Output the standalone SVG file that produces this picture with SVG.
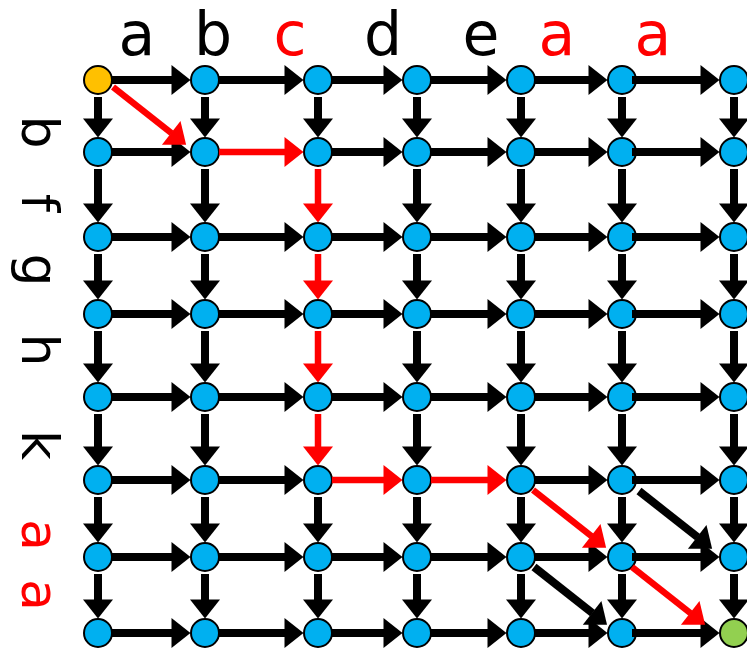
<svg xmlns="http://www.w3.org/2000/svg" width="747" height="652" viewBox="0 0 747 652">
  <style>
    .lbl { font-family: "DejaVu Sans", Verdana, sans-serif; fill: #000; }
    .top { font-size: 60px; text-anchor: middle; }
    .side { font-size: 52px; text-anchor: middle; }
    .hot { fill: #FF0000; }
    .n { fill: #00B0F0; stroke: #000; stroke-width: 2; }
    .n.start { fill: #FFC000; }
    .n.end { fill: #92D050; }
    .k { stroke: #000; stroke-width: 8; fill: none; marker-end: url(#headK); }
    .r { stroke: #FF0000; stroke-width: 6.5; fill: none; marker-end: url(#headR); }
  </style>
  <defs>
    <marker id="headK" markerUnits="userSpaceOnUse" markerWidth="22" markerHeight="32" viewBox="0 -16 20 32" refX="0.5" refY="0" orient="auto">
      <path d="M0,-15 L19,0 L0,15 Z" fill="#000"/>
    </marker>
    <marker id="headR" markerUnits="userSpaceOnUse" markerWidth="22" markerHeight="32" viewBox="0 -16 20 32" refX="0.5" refY="0" orient="auto">
      <path d="M0,-15 L19,0 L0,15 Z" fill="#FF0000"/>
    </marker>
  </defs>

  <!-- column labels -->
  <g id="col-labels" class="lbl top">
    <text x="137" y="55">a</text>
    <text x="213" y="55">b</text>
    <text x="290" y="55" class="hot">c</text>
    <text x="383" y="55">d</text>
    <text x="481" y="55">e</text>
    <text x="557" y="55" class="hot">a</text>
    <text x="653" y="55" class="hot">a</text>
  </g>

  <!-- row labels, rotated -->
  <g id="row-labels" class="lbl side">
    <text transform="translate(22,132) rotate(90)">b</text>
    <text transform="translate(22,203) rotate(90)">f</text>
    <text transform="translate(22,270) rotate(90)">g</text>
    <text transform="translate(22,350) rotate(90)">h</text>
    <text transform="translate(22,445) rotate(90)">k</text>
    <text transform="translate(22,535) rotate(90)" class="hot">a</text>
    <text transform="translate(22,595) rotate(90)" class="hot">a</text>
  </g>

  <!-- grid nodes -->
  <g id="nodes">
    <g id="n0-0"><circle class="n start" cx="98" cy="80" r="14"/></g>
    <g id="n0-1"><circle class="n" cx="205" cy="80" r="14"/></g>
    <g id="n0-2"><circle class="n" cx="318" cy="80" r="14"/></g>
    <g id="n0-3"><circle class="n" cx="417" cy="80" r="14"/></g>
    <g id="n0-4"><circle class="n" cx="521" cy="80" r="14"/></g>
    <g id="n0-5"><circle class="n" cx="622" cy="80" r="14"/></g>
    <g id="n0-6"><circle class="n" cx="734" cy="80" r="14"/></g>

    <g id="n1-0"><circle class="n" cx="98" cy="152" r="14"/></g>
    <g id="n1-1"><circle class="n" cx="205" cy="152" r="14"/></g>
    <g id="n1-2"><circle class="n" cx="318" cy="152" r="14"/></g>
    <g id="n1-3"><circle class="n" cx="417" cy="152" r="14"/></g>
    <g id="n1-4"><circle class="n" cx="521" cy="152" r="14"/></g>
    <g id="n1-5"><circle class="n" cx="622" cy="152" r="14"/></g>
    <g id="n1-6"><circle class="n" cx="734" cy="152" r="14"/></g>

    <g id="n2-0"><circle class="n" cx="98" cy="237" r="14"/></g>
    <g id="n2-1"><circle class="n" cx="205" cy="237" r="14"/></g>
    <g id="n2-2"><circle class="n" cx="318" cy="237" r="14"/></g>
    <g id="n2-3"><circle class="n" cx="417" cy="237" r="14"/></g>
    <g id="n2-4"><circle class="n" cx="521" cy="237" r="14"/></g>
    <g id="n2-5"><circle class="n" cx="622" cy="237" r="14"/></g>
    <g id="n2-6"><circle class="n" cx="734" cy="237" r="14"/></g>

    <g id="n3-0"><circle class="n" cx="98" cy="314" r="14"/></g>
    <g id="n3-1"><circle class="n" cx="205" cy="314" r="14"/></g>
    <g id="n3-2"><circle class="n" cx="318" cy="314" r="14"/></g>
    <g id="n3-3"><circle class="n" cx="417" cy="314" r="14"/></g>
    <g id="n3-4"><circle class="n" cx="521" cy="314" r="14"/></g>
    <g id="n3-5"><circle class="n" cx="622" cy="314" r="14"/></g>
    <g id="n3-6"><circle class="n" cx="734" cy="314" r="14"/></g>

    <g id="n4-0"><circle class="n" cx="98" cy="397" r="14"/></g>
    <g id="n4-1"><circle class="n" cx="205" cy="397" r="14"/></g>
    <g id="n4-2"><circle class="n" cx="318" cy="397" r="14"/></g>
    <g id="n4-3"><circle class="n" cx="417" cy="397" r="14"/></g>
    <g id="n4-4"><circle class="n" cx="521" cy="397" r="14"/></g>
    <g id="n4-5"><circle class="n" cx="622" cy="397" r="14"/></g>
    <g id="n4-6"><circle class="n" cx="734" cy="397" r="14"/></g>

    <g id="n5-0"><circle class="n" cx="98" cy="480" r="14"/></g>
    <g id="n5-1"><circle class="n" cx="205" cy="480" r="14"/></g>
    <g id="n5-2"><circle class="n" cx="318" cy="480" r="14"/></g>
    <g id="n5-3"><circle class="n" cx="417" cy="480" r="14"/></g>
    <g id="n5-4"><circle class="n" cx="521" cy="480" r="14"/></g>
    <g id="n5-5"><circle class="n" cx="622" cy="480" r="14"/></g>
    <g id="n5-6"><circle class="n" cx="734" cy="480" r="14"/></g>

    <g id="n6-0"><circle class="n" cx="98" cy="557" r="14"/></g>
    <g id="n6-1"><circle class="n" cx="205" cy="557" r="14"/></g>
    <g id="n6-2"><circle class="n" cx="318" cy="557" r="14"/></g>
    <g id="n6-3"><circle class="n" cx="417" cy="557" r="14"/></g>
    <g id="n6-4"><circle class="n" cx="521" cy="557" r="14"/></g>
    <g id="n6-5"><circle class="n" cx="622" cy="557" r="14"/></g>
    <g id="n6-6"><circle class="n" cx="734" cy="557" r="14"/></g>

    <g id="n7-0"><circle class="n" cx="98" cy="633" r="14"/></g>
    <g id="n7-1"><circle class="n" cx="205" cy="633" r="14"/></g>
    <g id="n7-2"><circle class="n" cx="318" cy="633" r="14"/></g>
    <g id="n7-3"><circle class="n" cx="417" cy="633" r="14"/></g>
    <g id="n7-4"><circle class="n" cx="521" cy="633" r="14"/></g>
    <g id="n7-5"><circle class="n" cx="622" cy="633" r="14"/></g>
    <g id="n7-6"><circle class="n end" cx="734" cy="633" r="14"/></g>
  </g>

  <!-- connectors: horizontal, vertical and diagonal moves -->
  <g id="connectors">
    <!-- row 0 -->
    <line class="k" x1="112" y1="80" x2="172" y2="80"/>
    <line class="k" x1="219" y1="80" x2="285" y2="80"/>
    <line class="k" x1="332" y1="80" x2="384" y2="80"/>
    <line class="k" x1="431" y1="80" x2="488" y2="80"/>
    <line class="k" x1="535" y1="80" x2="589" y2="80"/>
    <line class="k" x1="632" y1="80" x2="701" y2="80"/>
    <!-- row 1 -->
    <line class="k" x1="112" y1="152" x2="172" y2="152"/>
    <line class="r" x1="219" y1="152" x2="285" y2="152"/>
    <line class="k" x1="332" y1="152" x2="384" y2="152"/>
    <line class="k" x1="431" y1="152" x2="488" y2="152"/>
    <line class="k" x1="535" y1="152" x2="589" y2="152"/>
    <line class="k" x1="632" y1="152" x2="701" y2="152"/>
    <!-- row 2 -->
    <line class="k" x1="112" y1="237" x2="172" y2="237"/>
    <line class="k" x1="219" y1="237" x2="285" y2="237"/>
    <line class="k" x1="332" y1="237" x2="384" y2="237"/>
    <line class="k" x1="431" y1="237" x2="488" y2="237"/>
    <line class="k" x1="535" y1="237" x2="589" y2="237"/>
    <line class="k" x1="632" y1="237" x2="701" y2="237"/>
    <!-- row 3 -->
    <line class="k" x1="112" y1="314" x2="172" y2="314"/>
    <line class="k" x1="219" y1="314" x2="285" y2="314"/>
    <line class="k" x1="332" y1="314" x2="384" y2="314"/>
    <line class="k" x1="431" y1="314" x2="488" y2="314"/>
    <line class="k" x1="535" y1="314" x2="589" y2="314"/>
    <line class="k" x1="632" y1="314" x2="701" y2="314"/>
    <!-- row 4 -->
    <line class="k" x1="112" y1="397" x2="172" y2="397"/>
    <line class="k" x1="219" y1="397" x2="285" y2="397"/>
    <line class="k" x1="332" y1="397" x2="384" y2="397"/>
    <line class="k" x1="431" y1="397" x2="488" y2="397"/>
    <line class="k" x1="535" y1="397" x2="589" y2="397"/>
    <line class="k" x1="632" y1="397" x2="701" y2="397"/>
    <!-- row 5 -->
    <line class="k" x1="112" y1="480" x2="172" y2="480"/>
    <line class="k" x1="219" y1="480" x2="285" y2="480"/>
    <line class="r" x1="332" y1="480" x2="384" y2="480"/>
    <line class="r" x1="431" y1="480" x2="488" y2="480"/>
    <line class="k" x1="535" y1="480" x2="589" y2="480"/>
    <line class="k" x1="632" y1="480" x2="701" y2="480"/>
    <!-- row 6 -->
    <line class="k" x1="112" y1="557" x2="172" y2="557"/>
    <line class="k" x1="219" y1="557" x2="285" y2="557"/>
    <line class="k" x1="332" y1="557" x2="384" y2="557"/>
    <line class="k" x1="431" y1="557" x2="488" y2="557"/>
    <line class="k" x1="535" y1="557" x2="589" y2="557"/>
    <line class="k" x1="632" y1="557" x2="701" y2="557"/>
    <!-- row 7 -->
    <line class="k" x1="112" y1="633" x2="172" y2="633"/>
    <line class="k" x1="219" y1="633" x2="285" y2="633"/>
    <line class="k" x1="332" y1="633" x2="384" y2="633"/>
    <line class="k" x1="431" y1="633" x2="488" y2="633"/>
    <line class="k" x1="535" y1="633" x2="589" y2="633"/>
    <line class="k" x1="632" y1="633" x2="701" y2="633"/>

    <!-- column 0 -->
    <line class="k" x1="98" y1="97" x2="98" y2="119"/>
    <line class="k" x1="98" y1="169" x2="98" y2="204"/>
    <line class="k" x1="98" y1="254" x2="98" y2="281"/>
    <line class="k" x1="98" y1="331" x2="98" y2="364"/>
    <line class="k" x1="98" y1="414" x2="98" y2="447"/>
    <line class="k" x1="98" y1="497" x2="98" y2="524"/>
    <line class="k" x1="98" y1="574" x2="98" y2="600"/>
    <!-- column 1 -->
    <line class="k" x1="205" y1="97" x2="205" y2="119"/>
    <line class="k" x1="205" y1="169" x2="205" y2="204"/>
    <line class="k" x1="205" y1="254" x2="205" y2="281"/>
    <line class="k" x1="205" y1="331" x2="205" y2="364"/>
    <line class="k" x1="205" y1="414" x2="205" y2="447"/>
    <line class="k" x1="205" y1="497" x2="205" y2="524"/>
    <line class="k" x1="205" y1="574" x2="205" y2="600"/>
    <!-- column 2 -->
    <line class="k" x1="318" y1="97" x2="318" y2="119"/>
    <line class="r" x1="318" y1="169" x2="318" y2="204"/>
    <line class="r" x1="318" y1="254" x2="318" y2="281"/>
    <line class="r" x1="318" y1="331" x2="318" y2="364"/>
    <line class="r" x1="318" y1="414" x2="318" y2="447"/>
    <line class="k" x1="318" y1="497" x2="318" y2="524"/>
    <line class="k" x1="318" y1="574" x2="318" y2="600"/>
    <!-- column 3 -->
    <line class="k" x1="417" y1="97" x2="417" y2="119"/>
    <line class="k" x1="417" y1="169" x2="417" y2="204"/>
    <line class="k" x1="417" y1="254" x2="417" y2="281"/>
    <line class="k" x1="417" y1="331" x2="417" y2="364"/>
    <line class="k" x1="417" y1="414" x2="417" y2="447"/>
    <line class="k" x1="417" y1="497" x2="417" y2="524"/>
    <line class="k" x1="417" y1="574" x2="417" y2="600"/>
    <!-- column 4 -->
    <line class="k" x1="521" y1="97" x2="521" y2="119"/>
    <line class="k" x1="521" y1="169" x2="521" y2="204"/>
    <line class="k" x1="521" y1="254" x2="521" y2="281"/>
    <line class="k" x1="521" y1="331" x2="521" y2="364"/>
    <line class="k" x1="521" y1="414" x2="521" y2="447"/>
    <line class="k" x1="521" y1="497" x2="521" y2="524"/>
    <line class="k" x1="521" y1="574" x2="521" y2="600"/>
    <!-- column 5 -->
    <line class="k" x1="622" y1="97" x2="622" y2="119"/>
    <line class="k" x1="622" y1="169" x2="622" y2="204"/>
    <line class="k" x1="622" y1="254" x2="622" y2="281"/>
    <line class="k" x1="622" y1="331" x2="622" y2="364"/>
    <line class="k" x1="622" y1="414" x2="622" y2="447"/>
    <line class="k" x1="622" y1="497" x2="622" y2="524"/>
    <line class="k" x1="622" y1="574" x2="622" y2="600"/>
    <!-- column 6 -->
    <line class="k" x1="734" y1="97" x2="734" y2="119"/>
    <line class="k" x1="734" y1="169" x2="734" y2="204"/>
    <line class="k" x1="734" y1="254" x2="734" y2="281"/>
    <line class="k" x1="734" y1="331" x2="734" y2="364"/>
    <line class="k" x1="734" y1="414" x2="734" y2="447"/>
    <line class="k" x1="734" y1="497" x2="734" y2="524"/>
    <line class="k" x1="734" y1="574" x2="734" y2="600"/>

    <!-- diagonal moves -->
    <line class="r" x1="113" y1="87" x2="171.6" y2="133.2"/>
    <line class="r" x1="533" y1="490" x2="591.6" y2="536.2"/>
    <line class="r" x1="632" y1="567" x2="690.6" y2="613.2"/>
    <line class="k" x1="639" y1="491" x2="697.6" y2="537.2"/>
    <line class="k" x1="534" y1="567" x2="592.5" y2="613.2"/>
  </g>
</svg>
